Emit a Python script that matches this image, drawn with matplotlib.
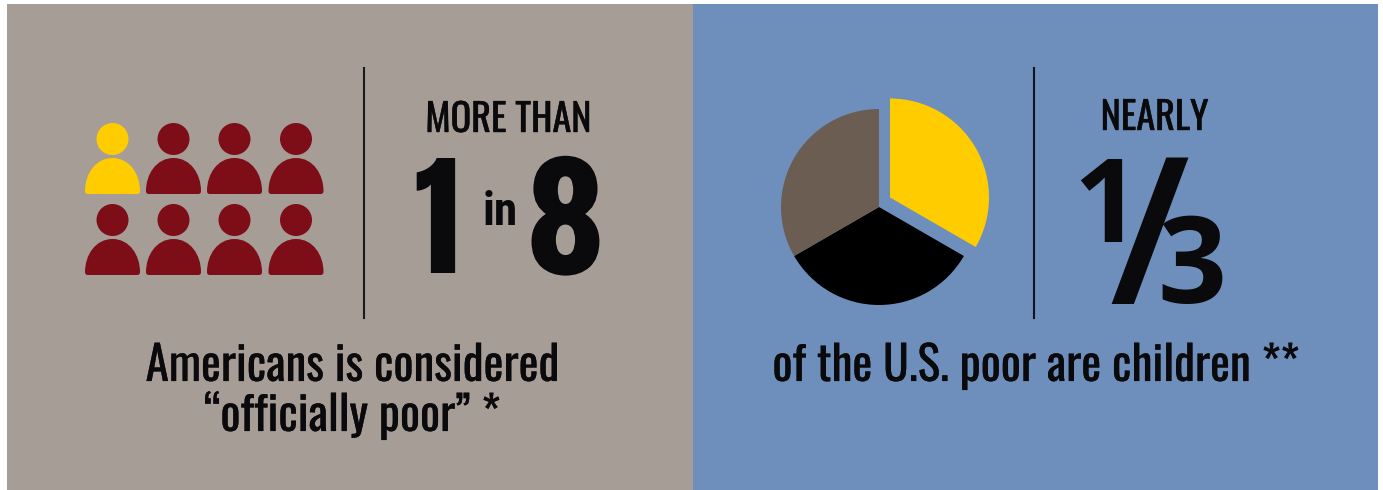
#!/usr/bin/env python
# -*- coding: utf-8 -*-

""" Two panel poverty graphic: people pictogram and pie """

import matplotlib
matplotlib.use('Agg')
import matplotlib.pyplot as plt
import matplotlib.patheffects as pe
from matplotlib.patches import Rectangle, Circle, PathPatch
from matplotlib.path import Path

WIDTH, HEIGHT = 1383, 490

people_total = 8
people_highlighted = 1
people_per_row = 4

pie_values = [33, 33, 33]
pie_colors = ['#FFCC00', '#000000', '#6B5D52']

left_top = 'MORE THAN'
left_number = '1'
left_word = 'in'
left_of = '8'
left_caption = ['Americans is considered', '“officially poor” *']

right_top = 'NEARLY'
right_caption = 'of the U.S. poor are children **'

NARROW = ['Oswald', 'Antonio', 'Liberation Sans', 'DejaVu Sans']
HEAVY = ['Anton', 'Oswald', 'Liberation Sans', 'DejaVu Sans']
COND = ['Roboto Condensed', 'Liberation Sans', 'DejaVu Sans']
WIDE = ['Open Sans', 'DejaVu Sans']
INK = '#0A0A0C'
GREY = '#A69D96'
BLUE = '#6E8FBB'
RED = '#7D0E17'


def y_(py):
    # layout is worked out from the top of the image
    return HEIGHT - py


def person(ax, cx, top, color):
    ax.add_patch(Circle((cx, y_(top + 16)), 16, fc=color, ec='none'))
    x0, x1 = cx - 27.5, cx + 27.5
    yt, yb = y_(top + 35), y_(top + 71)
    verts = [(x0, yb + 3), (x0, yt - 16), (cx - 17, yt), (cx, yt),
             (cx + 17, yt), (x1, yt - 16), (x1, yb + 3),
             (x1, yb + 1), (x1 - 1, yb), (x1 - 3, yb),
             (x0 + 3, yb), (x0 + 1, yb), (x0, yb + 1), (x0, yb + 3), (x0, yb + 3)]
    codes = [Path.MOVETO, Path.CURVE4, Path.CURVE4, Path.CURVE4,
             Path.CURVE4, Path.CURVE4, Path.CURVE4,
             Path.CURVE4, Path.CURVE4, Path.CURVE4,
             Path.LINETO, Path.CURVE4, Path.CURVE4, Path.CURVE4, Path.CLOSEPOLY]
    ax.add_patch(PathPatch(Path(verts, codes), fc=color, ec='none'))


def label(ax, x, py, s, size, family=NARROW, weight='normal', stroke=0.0):
    t = ax.text(x, y_(py), s, fontsize=size, family=family, weight=weight,
                color=INK, ha='center', va='baseline')
    if stroke:
        # Oswald only comes in one weight here, thicken it a little
        t.set_path_effects([pe.withStroke(linewidth=stroke, foreground=INK)])


fig = plt.figure(figsize=(WIDTH / 100, HEIGHT / 100), dpi=100, facecolor='white')
ax = fig.add_axes([0, 0, 1, 1])

# pie first, it resets limits and aspect
wedges, _ = ax.pie(pie_values, colors=pie_colors, startangle=90, counterclock=False,
                   radius=98, center=(879, y_(207)), frame=True)
wedges[0].set_center((890, y_(197.5)))
wedges[0].set_radius(99)
for w in wedges:
    w.set_zorder(3)

ax.set_xlim(0, WIDTH)
ax.set_ylim(0, HEIGHT)
ax.set_aspect('auto')
ax.axis('off')

ax.add_patch(Rectangle((7, 0), 686, y_(4), fc=GREY, ec='none', zorder=0))
ax.add_patch(Rectangle((693, 0), 685, y_(4), fc=BLUE, ec='none', zorder=0))

# divider lines
ax.plot([364, 364], [y_(68), y_(318)], color='#1A1A1A', lw=1.5)
ax.plot([1034, 1034], [y_(68), y_(318)], color='#10141E', lw=1.5)

# people grid
col_x = [112.5, 173.5, 234.5, 296]
row_top = [123, 204]
for i in range(people_total):
    row, col = divmod(i, people_per_row)
    color = '#FFCC00' if i < people_highlighted else RED
    person(ax, col_x[col], row_top[row], color)

label(ax, 508.5, 132, left_top, 27.5, stroke=0.3)
label(ax, 436, 273, left_number, 96, family=HEAVY)
label(ax, 500.5, 225, left_word, 34, family=COND, weight='bold')
label(ax, 565.5, 273, left_of, 116, family=COND, weight=800, stroke=1.5)
label(ax, 352.5, 381, left_caption[0], 34, stroke=0.15)
label(ax, 352, 431, left_caption[1], 34, stroke=0.15)

label(ax, 1154.5, 130, right_top, 27.5, stroke=0.3)
label(ax, 1106, 242, '1', 84, family=WIDE, weight='bold')
label(ax, 1149.5, 304, '/', 148, family=WIDE, weight=600)
label(ax, 1192, 303, '3', 87, family=WIDE, weight='bold')
label(ax, 1036, 381, right_caption, 34, stroke=0.15)

fig.savefig('out.png', dpi=100, facecolor='white')
